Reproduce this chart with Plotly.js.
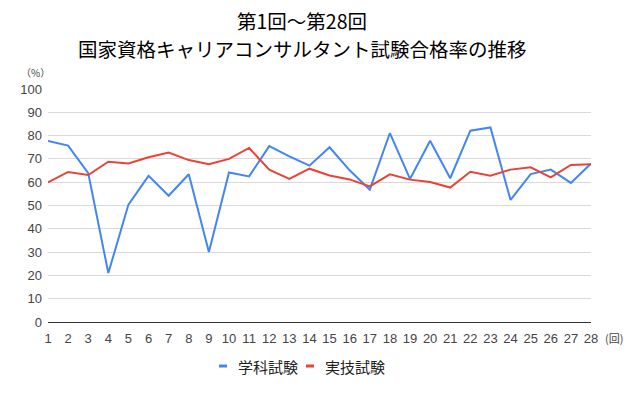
<!DOCTYPE html>
<html><head><meta charset="utf-8">
<script src="https://cdn.plot.ly/plotly-3.0.1.min.js"></script>
<style>body{margin:0;background:#fff}#c{width:630px;height:397px}</style>
</head><body><div id="c"></div>
<script>
const rounds = [1,2,3,4,5,6,7,8,9,10,11,12,13,14,15,16,17,18,19,20,21,22,23,24,25,26,27,28];
const gakka = [77.7,75.7,63.9,21.0,50.4,62.7,54.2,63.4,30.0,64.2,62.5,75.5,71.1,67.1,75.0,65.1,56.8,81.1,61.4,77.8,61.7,82.1,83.5,52.4,63.5,65.4,59.7,68.0];
const jitsugi = [59.9,64.4,63.1,68.8,68.0,70.7,72.7,69.5,67.7,70.0,74.7,65.4,61.4,65.8,62.9,61.2,58.2,63.4,61.1,60.1,57.7,64.5,62.8,65.4,66.4,62.1,67.4,67.7];
const seriesNames = ['学科試験','実技試験'];
const titleLines = ['第1回～第28回','国家資格キャリアコンサルタント試験合格率の推移'];
const colors = ['#4285f4','#ea4335'];
const F = '"Noto Sans CJK JP", "Noto Sans", sans-serif';
const NF = '"Liberation Sans", Arial, sans-serif';
const traces = [
  {x: rounds, y: gakka, name: seriesNames[0], type:'scatter', mode:'lines', line:{color:colors[0], width:2}},
  {x: rounds, y: jitsugi, name: seriesNames[1], type:'scatter', mode:'lines', line:{color:colors[1], width:2}}
];
const L = 48, W = 543, T = 89, H = 233;
const px = v => (v - L) / W;
const py = v => (T + H - v) / H;
const legendX = [219, 306];
const shapes = legendX.map((x0, i) => ({type:'line', xref:'paper', yref:'paper', x0:px(x0), x1:px(x0+8), y0:py(366), y1:py(366), line:{color:colors[i], width:3}}));
const legendAnns = legendX.map((x0, i) => ({text:seriesNames[i], xref:'paper', yref:'paper', x:px(x0+17), y:py(366), xanchor:'left', yanchor:'middle', showarrow:false, font:{family:F, size:15, color:'#222'}}));
const layout = {
  width:630, height:397,
  margin:{l:L, r:630-L-W, t:T, b:397-T-H},
  paper_bgcolor:'#fff', plot_bgcolor:'#fff',
  font:{family:NF, color:'#444'},
  title:{text:titleLines[0], font:{family:F, size:19.5, color:'#000'}, xref:'container', x:302/630, xanchor:'center', yref:'container', y:1-22/397, yanchor:'middle'},
  xaxis:{range:[1,28], tickvals:rounds, ticktext:rounds.map(String), showgrid:false, zeroline:false, showline:true, linecolor:'#333', linewidth:1, tickfont:{family:NF, size:13, color:'#444'}, ticks:'', ticklabelstandoff:4},
  yaxis:{range:[0,100], dtick:10, gridcolor:'#d9d9d9', zeroline:false, showline:false, tickfont:{family:NF, size:13, color:'#444'}, ticks:'', ticklabelstandoff:5},
  showlegend:false,
  shapes: shapes,
  annotations:[
    {text:titleLines[1], xref:'paper', yref:'paper', x:px(302), y:py(48), xanchor:'center', yanchor:'middle', showarrow:false, font:{family:F, size:19.5, color:'#000'}},
    {text:'（%）', xref:'paper', yref:'paper', x:px(19), y:py(73), xanchor:'left', yanchor:'middle', showarrow:false, font:{family:F, size:10, color:'#444'}},
    {text:'(回)', xref:'paper', yref:'paper', x:px(614), y:py(338), xanchor:'center', yanchor:'middle', showarrow:false, font:{family:F, size:11, color:'#444'}}
  ].concat(legendAnns)
};
Plotly.newPlot('c', traces, layout, {displayModeBar:false, staticPlot:true});
</script></body></html>
